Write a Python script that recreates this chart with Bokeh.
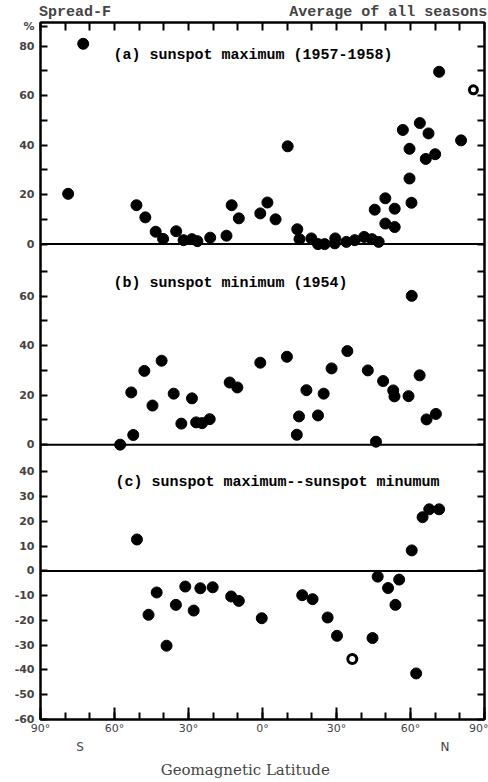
from bokeh.plotting import figure
from bokeh.models import FixedTicker, LinearAxis, Span, Label, ColumnDataSource, Range1d
from bokeh.transform import dodge
from bokeh.embed import file_html
from bokeh.resources import INLINE

# ---- data (geomagnetic latitude in degrees, S negative; spread-F occurrence %) ----
lat_a = [-78.8, -72.7, -51.1, -47.5, -43.3, -40.3, -35.0, -32.0, -28.6, -26.4,
         -21.2, -14.6, -12.5, -9.6, -0.9, 2.0, 5.3, 10.2, 14.1, 15.0,
         19.8, 22.5, 25.2, 29.5, 29.3, 34.0, 37.4, 41.2, 44.4, 47.1,
         45.5, 49.8, 49.8, 53.6, 53.6, 56.9, 59.6, 59.6, 60.4, 63.8,
         67.3, 66.2, 70.0, 71.6, 80.5]
pct_a = [20.3, 80.9, 15.7, 10.8, 5.0, 2.1, 5.2, 1.6, 2.0, 1.2,
         2.6, 3.4, 15.7, 10.4, 12.4, 16.8, 10.0, 39.5, 6.0, 2.0,
         2.3, 0.0, 0.0, 2.3, 0.3, 0.9, 1.6, 2.9, 2.0, 0.9,
         13.9, 18.5, 8.3, 14.3, 6.9, 46.1, 38.5, 26.5, 16.7, 48.9,
         44.7, 34.4, 36.3, 69.6, 41.9]
ring_lat_a = [85.5]
ring_pct_a = [62.3]

lat_b = [-57.7, -53.2, -52.4, -47.9, -44.6, -40.9, -36.0, -32.9, -28.6, -26.9,
         -24.5, -21.4, -13.3, -10.2, -0.9, 9.9, 13.9, 14.8, 17.8, 22.5,
         24.8, 28.0, 34.4, 42.7, 46.0, 48.9, 53.0, 53.5, 59.2, 60.5,
         63.7, 66.5, 70.3]
pct_b = [0.0, 21.1, 3.9, 29.8, 15.8, 33.9, 20.6, 8.5, 18.7, 9.0,
         8.7, 10.3, 25.1, 23.1, 33.1, 35.5, 4.0, 11.4, 22.0, 11.8,
         20.6, 30.8, 37.8, 30.0, 1.2, 25.7, 21.9, 19.5, 19.6, 60.1,
         28.0, 10.2, 12.4]

lat_c = [-50.9, -46.2, -42.9, -38.9, -35.1, -31.3, -27.9, -25.2, -20.2, -12.7,
         -9.6, -0.3, 16.1, 20.3, 26.4, 30.2, 44.6, 46.7, 50.9, 53.9,
         55.4, 60.5, 62.3, 64.9, 67.6, 71.6]
diff_c = [12.7, -17.7, -8.7, -30.2, -13.7, -6.3, -16.0, -7.0, -6.6, -10.3,
          -12.1, -19.1, -9.8, -11.4, -18.8, -26.2, -27.1, -2.3, -6.9, -13.7,
          -3.5, 8.3, -41.4, 21.7, 24.9, 24.9]
ring_lat_c = [36.4]
ring_diff_c = [-35.6]

panel_titles = ["(a) sunspot maximum (1957-1958)",
                "(b) sunspot minimum (1954)",
                "(c) sunspot maximum--sunspot minumum"]
ticks_c = [-60, -50, -40, -30, -20, -10, 0, 10, 20, 30, 40]
ticks_b = [0, 20, 40, 60]
minor_b = [10, 30, 50, 70]
ticks_a = [0, 20, 40, 60, 80]
minor_a = [10, 30, 50, 70]
x_major = [-90, -60, -30, 0, 30, 60, 90]
x_labels = ["90°", "60°", "30°", "0°", "30°", "60°", "90°"]
header_texts = ["Spread-F", "Average of all seasons"]
hemisphere_texts = ["S", "N"]
x_title = "Geomagnetic Latitude"
y_unit = "%"

# stacked panel layout (vertical offsets of the panels' zero lines)
OFF_B = 51
OFF_A = 132
Y_TOP = 221.5

p = figure(width=488, height=782, output_backend="svg", toolbar_location=None,
           x_range=Range1d(-90, 90), y_range=Range1d(-60, Y_TOP),
           min_border_left=40, min_border_right=4, min_border_top=22,
           min_border_bottom=63, x_axis_location=None, y_axis_location=None)
p.xgrid.visible = False
p.ygrid.visible = False
p.outline_line_color = "black"
p.outline_line_width = 2
p.background_fill_color = "white"
p.border_fill_color = "white"

y_major = ticks_c + [t + OFF_B for t in ticks_b] + [t + OFF_A for t in ticks_a]
y_minor = [t + OFF_B for t in minor_b] + [t + OFF_A for t in minor_a]
y_over = {}
for t in ticks_c:
    y_over[t] = str(t)
for t in ticks_b:
    y_over[t + OFF_B] = str(t)
for t in ticks_a:
    y_over[t + OFF_A] = str(t)
y_over[220] = y_unit

def tick_style(ax, tin=7):
    ax.major_tick_in = tin
    ax.major_tick_out = 0
    ax.minor_tick_in = 7
    ax.minor_tick_out = 0
    ax.major_tick_line_width = 2
    ax.minor_tick_line_width = 2
    ax.axis_line_width = 2

yl = LinearAxis(ticker=FixedTicker(ticks=y_major + [220], minor_ticks=y_minor))
tick_style(yl)
yl.major_label_overrides = y_over
yl.major_label_text_font = "DejaVu Sans"
yl.major_label_text_font_style = "bold"
yl.major_label_text_font_size = "11px"
yl.major_label_standoff = 6
p.add_layout(yl, "left")

yr = LinearAxis(ticker=FixedTicker(ticks=[], minor_ticks=y_major + y_minor))
tick_style(yr)
p.add_layout(yr, "right")

xb = LinearAxis(ticker=FixedTicker(ticks=x_major, minor_ticks=list(range(-90, 91, 10))))
tick_style(xb, tin=12)
xb.major_label_overrides = dict(zip(x_major, x_labels))
xb.major_label_text_font = "DejaVu Sans"
xb.major_label_text_font_size = "11px"
xb.major_label_standoff = 2
p.add_layout(xb, "below")

xt = LinearAxis(ticker=FixedTicker(ticks=[], minor_ticks=list(range(-90, 91, 10))))
tick_style(xt)
xt.minor_tick_in = 8
p.add_layout(xt, "above")

def text_axis(ticks, labels, font, size, style, standoff, side):
    ax = LinearAxis(ticker=FixedTicker(ticks=ticks, minor_ticks=[]))
    ax.major_label_overrides = dict(zip(ticks, labels))
    ax.major_tick_in = 0
    ax.major_tick_out = 0
    ax.minor_tick_in = 0
    ax.minor_tick_out = 0
    ax.axis_line_color = None
    ax.major_tick_line_color = None
    ax.minor_tick_line_color = None
    ax.major_label_text_font = font
    ax.major_label_text_font_size = size
    ax.major_label_text_font_style = style
    ax.major_label_standoff = standoff
    p.add_layout(ax, side)

# header texts (top), hemisphere letters and axis title (bottom)
text_axis([-76, 51], header_texts, "Liberation Mono", "15px", "bold", 2, "above")
text_axis([-74, 74], hemisphere_texts, "DejaVu Sans", "12px", "normal", 2, "below")
text_axis([-7], [x_title], "DejaVu Serif", "15px", "normal", 4, "below")

for loc in [0, OFF_B, OFF_A]:
    p.add_layout(Span(location=loc, dimension="width", line_color="black", line_width=2))

src_a = ColumnDataSource(dict(lat=lat_a, val=pct_a))
src_b = ColumnDataSource(dict(lat=lat_b, val=pct_b))
src_c = ColumnDataSource(dict(lat=lat_c, val=diff_c))
src_ra = ColumnDataSource(dict(lat=ring_lat_a, val=ring_pct_a))
src_rc = ColumnDataSource(dict(lat=ring_lat_c, val=ring_diff_c))

p.scatter("lat", dodge("val", OFF_A), source=src_a, size=11, color="black")
p.scatter("lat", dodge("val", OFF_B), source=src_b, size=11, color="black")
p.scatter("lat", "val", source=src_c, size=11, color="black")
p.scatter("lat", dodge("val", OFF_A), source=src_ra, size=8, fill_color="white",
          line_color="black", line_width=3)
p.scatter("lat", "val", source=src_rc, size=9, fill_color="white",
          line_color="black", line_width=3)

def lab(text, x, y):
    p.add_layout(Label(x=x, y=y, x_units="screen", y_units="screen", text=text,
                       text_font="Liberation Mono", text_font_size="15px",
                       text_font_style="bold", text_align="left",
                       text_baseline="middle", text_color="black"))

# panel captions, positioned relative to the plot frame
lab(panel_titles[0], 73, 664)
lab(panel_titles[1], 73, 436)
lab(panel_titles[2], 75, 237)

open("out.html", "w").write(file_html(p, INLINE))
